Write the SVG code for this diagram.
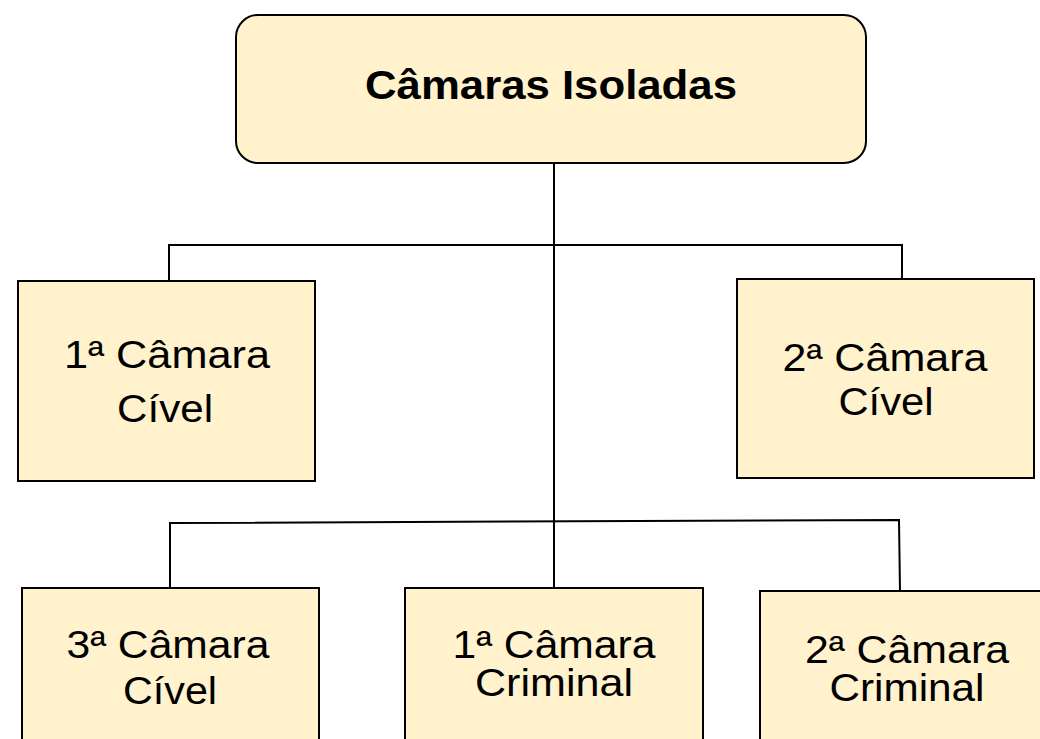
<svg xmlns="http://www.w3.org/2000/svg" width="1040" height="739" viewBox="0 0 1040 739">
<style>
.box{fill:#FFF2CC;stroke:#000;stroke-width:2}
.lbl{font-family:"Liberation Sans",Arial,sans-serif;font-size:38px;fill:#000;text-anchor:middle}
.ttl{font-family:"Liberation Sans",Arial,sans-serif;font-size:40px;font-weight:bold;fill:#000;text-anchor:middle}
.con{fill:none;stroke:#000;stroke-width:2}
</style>
<rect width="1040" height="739" fill="#fff"/>
<g id="connectors">
<path class="con" d="M554 163 V588"/>
<path class="con" d="M169 284 V245 H902 V279"/>
<path class="con" d="M170 588 V523 L899 520 L900 591"/>
</g>
<g id="root">
<rect class="box" x="236" y="15" width="630" height="148" rx="22"/>
<text class="ttl" x="551" y="99" textLength="372" lengthAdjust="spacingAndGlyphs">Câmaras Isoladas</text>
</g>
<g id="civel1">
<rect class="box" x="18" y="281" width="297" height="200"/>
<text class="lbl" x="167" y="368" textLength="206" lengthAdjust="spacingAndGlyphs">1ª Câmara</text>
<text class="lbl" x="165" y="422" textLength="96" lengthAdjust="spacingAndGlyphs">Cível</text>
</g>
<g id="civel2">
<rect class="box" x="737" y="279" width="297" height="199"/>
<text class="lbl" x="885" y="371" textLength="205" lengthAdjust="spacingAndGlyphs">2ª Câmara</text>
<text class="lbl" x="886" y="415" textLength="95" lengthAdjust="spacingAndGlyphs">Cível</text>
</g>
<g id="civel3">
<rect class="box" x="22" y="588" width="297" height="170"/>
<text class="lbl" x="168" y="658" textLength="203" lengthAdjust="spacingAndGlyphs">3ª Câmara</text>
<text class="lbl" x="170" y="704" textLength="94" lengthAdjust="spacingAndGlyphs">Cível</text>
</g>
<g id="criminal1">
<rect class="box" x="405" y="588" width="298" height="170"/>
<text class="lbl" x="554" y="658" textLength="203" lengthAdjust="spacingAndGlyphs">1ª Câmara</text>
<text class="lbl" x="554" y="696" textLength="158" lengthAdjust="spacingAndGlyphs">Criminal</text>
</g>
<g id="criminal2">
<rect class="box" x="760" y="591" width="300" height="170"/>
<text class="lbl" x="907" y="663" textLength="204" lengthAdjust="spacingAndGlyphs">2ª Câmara</text>
<text class="lbl" x="907" y="701" textLength="155" lengthAdjust="spacingAndGlyphs">Criminal</text>
</g>
</svg>
